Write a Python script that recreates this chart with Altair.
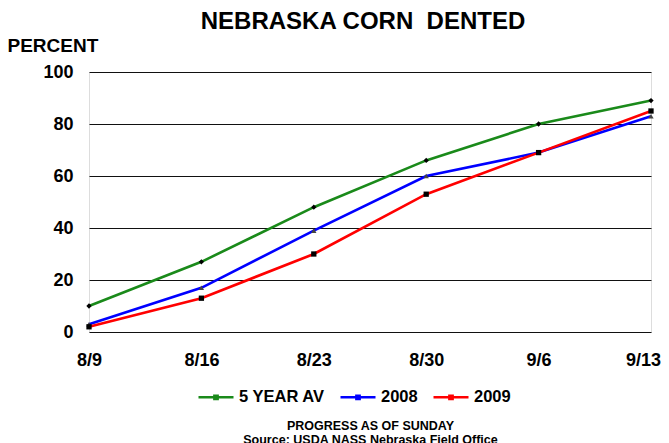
import altair as alt
import pandas as pd

weeks = ["8/9", "8/16", "8/23", "8/30", "9/6", "9/13"]
avg5 = [10, 27, 48, 66, 80, 89]
y2008 = [3, 17, 39, 60, 69, 83]
y2009 = [2, 13, 30, 53, 69, 85]
series_names = ["5 YEAR AV", "2008", "2009"]
series_colors = ["#1a8a1a", "#0000ff", "#ff0000"]
marker_shapes = ["diamond", "triangle-up", "square"]
marker_fills = ["#000000", "#444444", "#000000"]
marker_sizes = [28, 28, 40]
y_ticks = [0, 20, 40, 60, 80, 100]

rows = []
for name, vals in zip(series_names, [avg5, y2008, y2009]):
    for w, v in zip(weeks, vals):
        rows.append({"week": w, "pct": v, "series": name, "marker": name})
df = pd.DataFrame(rows)

FONT = "Liberation Sans"

legend_path = "M-1,0H1M-0.09,-0.09H0.09V0.09H-0.09Z"

x = alt.X(
    "week:O",
    sort=weeks,
    scale=alt.Scale(type="point", padding=0),
    axis=alt.Axis(
        title=["PROGRESS AS OF SUNDAY", "Source: USDA NASS Nebraska Field Office"],
        titleFont=FONT, titleFontSize=12.5, titleFontWeight="bold",
        titleY=97, titleBaseline="alphabetic", titleLineHeight=14,
        labelAngle=0, labelFont=FONT, labelFontSize=18, labelFontWeight="bold",
        labelPadding=19, ticks=False, tickSize=0, domain=False, grid=False,
        labelOffset={"condition": {"test": "datum.label === '9/13'", "value": -8}, "value": 0},
        labelColor="black", titleColor="black",
    ),
)
y = alt.Y(
    "pct:Q",
    scale=alt.Scale(domain=[0, 100], nice=False),
    axis=alt.Axis(
        values=y_ticks, title="PERCENT", titleAngle=0,
        titleFont=FONT, titleFontSize=19, titleFontWeight="bold",
        titleAlign="left", titleBaseline="alphabetic", titleX=-82, titleY=-21,
        labelFont=FONT, labelFontSize=18, labelFontWeight="bold",
        labelPadding=16, ticks=False, tickSize=0, domain=False,
        grid=True, gridColor="#111", gridWidth=1, gridOpacity=1,
        labelColor="black", titleColor="black",
    ),
)

color = alt.Color(
    "series:N",
    sort=series_names,
    scale=alt.Scale(domain=series_names, range=series_colors),
    legend=alt.Legend(
        title=None, orient="none", direction="horizontal",
        legendX=108, legendY=306,
        symbolType=legend_path, symbolSize=1225, symbolStrokeWidth=2.6,
        labelFont=FONT, labelFontSize=16.5, labelFontWeight="bold",
        labelColor="black", labelOffset=4, columnPadding=10,
    ),
)

lines = alt.Chart(df).mark_line(strokeWidth=2.6).encode(x=x, y=y, color=color)

points = alt.Chart(df).mark_point(filled=True, opacity=1).encode(
    x=x, y=y,
    shape=alt.Shape(
        "marker:N",
        scale=alt.Scale(domain=series_names, range=marker_shapes),
        legend=None,
    ),
    size=alt.Size(
        "marker:N",
        scale=alt.Scale(domain=series_names, range=marker_sizes),
        legend=None,
    ),
    fill=alt.Fill(
        "marker:N",
        scale=alt.Scale(domain=series_names, range=marker_fills),
        legend=None,
    ),
)

chart = (
    alt.layer(lines, points)
    .resolve_scale(color="independent", shape="independent", size="independent", fill="independent")
    .resolve_legend(color="independent", shape="independent", size="independent", fill="independent")
    .properties(
        width=562, height=260,
        title=alt.TitleParams(
            "NEBRASKA CORN\u00a0 DENTED",
            font=FONT, fontSize=24, fontWeight="bold", color="black",
            anchor="middle", frame="group", baseline="alphabetic", offset=-17, dx=-7,
        ),
        autosize=alt.AutoSizeParams(type="none"),
        padding={"left": 81, "top": 64, "right": 10, "bottom": 111},
    )
    .configure_view(stroke="#222", strokeWidth=1)
    .configure(background="white")
)

chart.save("out.html", embed_options={"renderer": "svg", "actions": False})
